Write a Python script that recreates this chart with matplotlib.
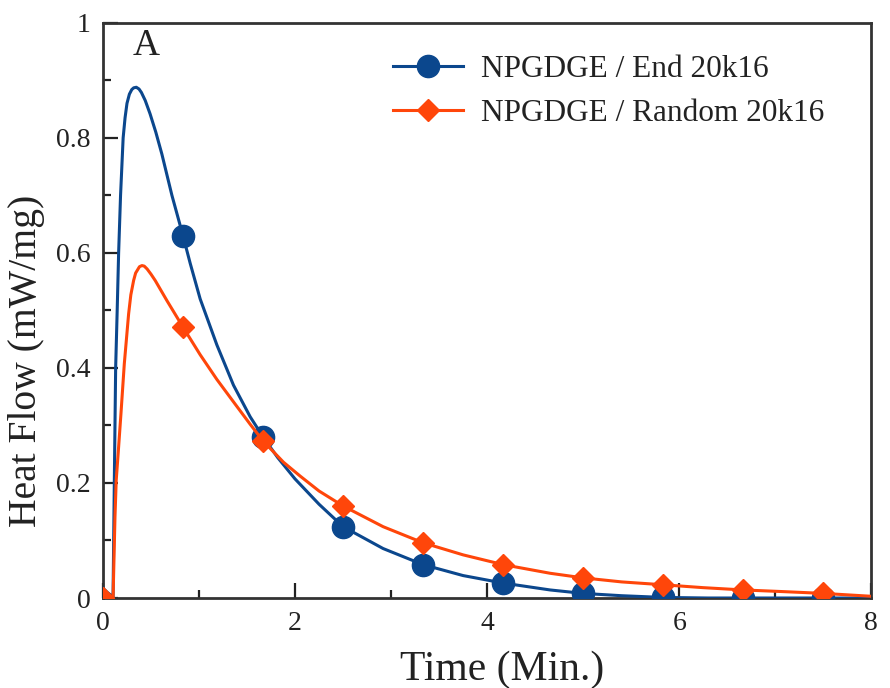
import numpy as np
import matplotlib
matplotlib.use("Agg")
import matplotlib.pyplot as plt
from matplotlib.ticker import MultipleLocator

plt.rcParams['font.family'] = ['Liberation Serif', 'DejaVu Serif']

# Isothermal cure exotherms (time in min, heat flow in mW/mg)
end_time = [0.0, 0.05, 0.105, 0.118, 0.132, 0.148, 0.163, 0.183, 0.21, 0.23, 0.25,
            0.275, 0.30, 0.32, 0.347, 0.375, 0.40, 0.44, 0.49, 0.55, 0.613, 0.718,
            0.833, 0.908, 1.012, 1.186, 1.359, 1.533, 1.667, 1.82, 2.0, 2.25, 2.5,
            2.917, 3.333, 3.75, 4.167, 4.656, 5.0, 5.4, 5.833, 6.3, 6.667, 7.5, 8.0]
end_flow = [0.017, 0.009, 0.002, 0.2, 0.4, 0.5, 0.6, 0.7, 0.8, 0.835, 0.86,
            0.876, 0.884, 0.887, 0.888, 0.885, 0.879, 0.865, 0.842, 0.81, 0.772, 0.70,
            0.630, 0.582, 0.520, 0.440, 0.370, 0.315, 0.280, 0.244, 0.207, 0.163, 0.124,
            0.086, 0.058, 0.039, 0.026, 0.014, 0.008, 0.004, 0.001, 0.0, 0.0, 0.0, 0.0]

rand_time = [0.0, 0.105, 0.125, 0.138, 0.163, 0.187, 0.222, 0.267, 0.29, 0.319, 0.34,
             0.38, 0.406, 0.43, 0.46, 0.50, 0.544, 0.666, 0.833, 1.012, 1.186, 1.359,
             1.533, 1.667, 1.88, 2.053, 2.25, 2.5, 2.917, 3.333, 3.75, 4.167, 4.656,
             5.0, 5.4, 5.833, 6.25, 6.667, 7.1, 7.5, 8.0]
rand_flow = [0.0, 0.0, 0.141, 0.205, 0.263, 0.32, 0.407, 0.494, 0.527, 0.552, 0.565,
             0.576, 0.578, 0.577, 0.572, 0.563, 0.552, 0.517, 0.471, 0.423, 0.380, 0.341,
             0.302, 0.273, 0.236, 0.212, 0.186, 0.160, 0.124, 0.096, 0.075, 0.058, 0.043,
             0.035, 0.028, 0.023, 0.018, 0.014, 0.011, 0.008, 0.003]

# Sampling instants that carry a symbol
end_marks = [0.833, 1.667, 2.5, 3.333, 4.167, 5.0, 5.833, 6.667, 7.5]
rand_marks = [0.0, 0.833, 1.667, 2.5, 3.333, 4.167, 5.0, 5.833, 6.667, 7.5]

series_labels = ['NPGDGE / End 20k16', 'NPGDGE / Random 20k16']
x_ticks = [0, 2, 4, 6, 8]
y_ticks = [0, 0.2, 0.4, 0.6, 0.8, 1]
y_tick_labels = ['0', '0.2', '0.4', '0.6', '0.8', '1']

BLUE = '#0b478d'
ORANGE = '#ff460a'
INK = '#222222'


def mark_index(t, marks):
    t = np.asarray(t)
    return [int(np.argmin(np.abs(t - m))) for m in marks]


fig = plt.figure(figsize=(8.9, 6.88), dpi=100)
ax = fig.add_axes([0.1157, 0.1308, 0.8633, 0.836])

ax.plot(end_time, end_flow, color=BLUE, lw=2.2, marker='o', ms=16,
        markevery=mark_index(end_time, end_marks), label=series_labels[0], zorder=3)
ax.plot(rand_time, rand_flow, color=ORANGE, lw=2.2, marker='D', ms=11.5,
        markevery=mark_index(rand_time, rand_marks), label=series_labels[1], zorder=4)

ax.set_xlim(0, 8)
ax.set_ylim(0, 1)
ax.set_xticks(x_ticks)
ax.set_yticks(y_ticks)
ax.set_yticklabels(y_tick_labels)
ax.xaxis.set_minor_locator(MultipleLocator(1))
ax.yaxis.set_minor_locator(MultipleLocator(0.1))
ax.tick_params(which='both', direction='in', top=False, right=False,
               width=1.6, color=INK, labelsize=20, labelcolor=INK)
ax.tick_params(which='major', length=10.5, pad=9)
ax.tick_params(which='minor', length=6)
for sp in ax.spines.values():
    sp.set_linewidth(2.0)
    sp.set_color('#333333')

ax.set_xlabel('Time (Min.)', fontsize=30, color=INK, va='center')
ax.xaxis.set_label_coords(0.519, -0.125)
ax.set_ylabel('Heat Flow (mW/mg)', fontsize=28.5, color=INK, va='center')
ax.yaxis.set_label_coords(-0.099, 0.412)

ax.text(0.039, 0.944, 'A', transform=ax.transAxes, fontsize=27,
        color=INK, ha='left', va='baseline')

leg = ax.legend(loc='upper left', bbox_to_anchor=(0.377, 0.944), frameon=False,
                fontsize=22.5, handlelength=2.25, handletextpad=0.58, numpoints=1,
                borderaxespad=0, borderpad=0, labelspacing=0.48)
for t in leg.get_texts():
    t.set_color(INK)

fig.savefig('out.png', dpi=100)
